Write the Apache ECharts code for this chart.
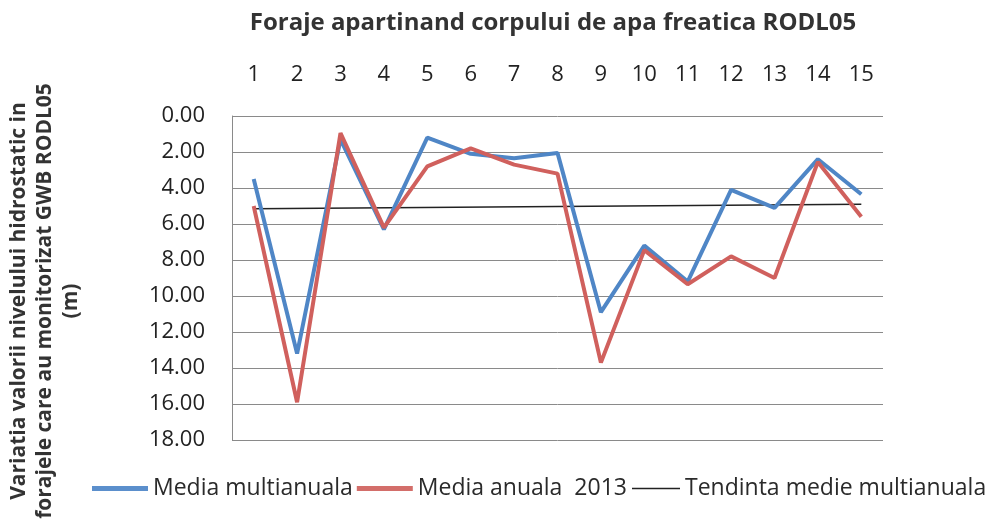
<!DOCTYPE html>
<html><head><meta charset="utf-8">
<script src="https://cdn.jsdelivr.net/npm/echarts@6/dist/echarts.min.js"></script>
<style>html,body{margin:0;padding:0;background:#fff}#c{width:990px;height:521px}</style>
</head><body><div id="c"></div>
<script>
const categories = ['1','2','3','4','5','6','7','8','9','10','11','12','13','14','15'];
const mediaMultianuala = [3.5, 13.2, 1.3, 6.3, 1.2, 2.1, 2.35, 2.05, 10.9, 7.2, 9.2, 4.1, 5.1, 2.4, 4.35];
const mediaAnuala2013 = [5.0, 15.9, 0.95, 6.2, 2.8, 1.8, 2.7, 3.2, 13.7, 7.45, 9.35, 7.8, 9.0, 2.55, 5.6];
const trendEnds = [5.15, 4.9];
const yTicks = {min: 0, max: 18, interval: 2};

const FONT = '"Open Sans", "Noto Sans", sans-serif';
const legendText = {fontFamily: FONT, fontSize: 23, color: '#2a2a2a'};
const chart = echarts.init(document.getElementById('c'));
chart.setOption({
  animation: false,
  backgroundColor: '#fff',
  title: {
    text: 'Foraje apartinand corpului de apa freatica RODL05',
    left: 548, top: 6, textAlign: 'center',
    textStyle: {fontFamily: FONT, fontSize: 24, fontWeight: 'bold', color: '#333'}
  },
  grid: {left: 232, right: 107, top: 116, bottom: 81},
  legend: [{
    left: 87, top: 472, itemWidth: 56, itemHeight: 5, itemGap: 4, icon: 'rect',
    textStyle: legendText,
    data: ['Media multianuala', 'Media anuala  2013']
  }, {
    left: 627, top: 472, itemWidth: 48, itemHeight: 1.5, icon: 'rect',
    textStyle: legendText,
    data: ['Tendinta medie multianuala']
  }],
  xAxis: {
    type: 'category', position: 'top', data: categories, boundaryGap: true,
    axisLine: {show: false}, axisTick: {show: false},
    axisLabel: {fontFamily: FONT, fontSize: 22, color: '#222', margin: 30}
  },
  yAxis: {
    type: 'value', inverse: true, min: yTicks.min, max: yTicks.max, interval: yTicks.interval,
    axisLine: {show: true, lineStyle: {color: '#8a8a8a', width: 1}},
    axisTick: {show: false},
    splitLine: {lineStyle: {color: '#8a8a8a', width: 1}},
    axisLabel: {fontFamily: FONT, fontSize: 22, color: '#222', margin: 27, formatter: v => v.toFixed(2)}
  },
  graphic: [{
    type: 'text', x: 45, y: 301, rotation: Math.PI / 2,
    style: {
      text: 'Variatia valorii nivelului hidrostatic in\nforajele care au monitorizat GWB RODL05\n(m)',
      fontFamily: FONT, fontSize: 21, fontWeight: 'bold', fill: '#333',
      align: 'center', verticalAlign: 'middle', lineHeight: 26
    }
  }],
  series: [
    {name: 'Media multianuala', type: 'line', data: mediaMultianuala, symbol: 'none',
     lineStyle: {color: '#4f86c6', width: 4}, itemStyle: {color: '#5b8fcc'}, z: 3},
    {name: 'Media anuala  2013', type: 'line', data: mediaAnuala2013, symbol: 'none',
     lineStyle: {color: '#d0605d', width: 4}, itemStyle: {color: '#d36e6a'}, z: 4},
    {name: 'Tendinta medie multianuala', type: 'line', symbol: 'none',
     data: [[categories[0], trendEnds[0]], [categories[categories.length - 1], trendEnds[1]]],
     lineStyle: {color: '#222', width: 1.5}, itemStyle: {color: '#222'}, z: 2}
  ]
});
</script></body></html>
